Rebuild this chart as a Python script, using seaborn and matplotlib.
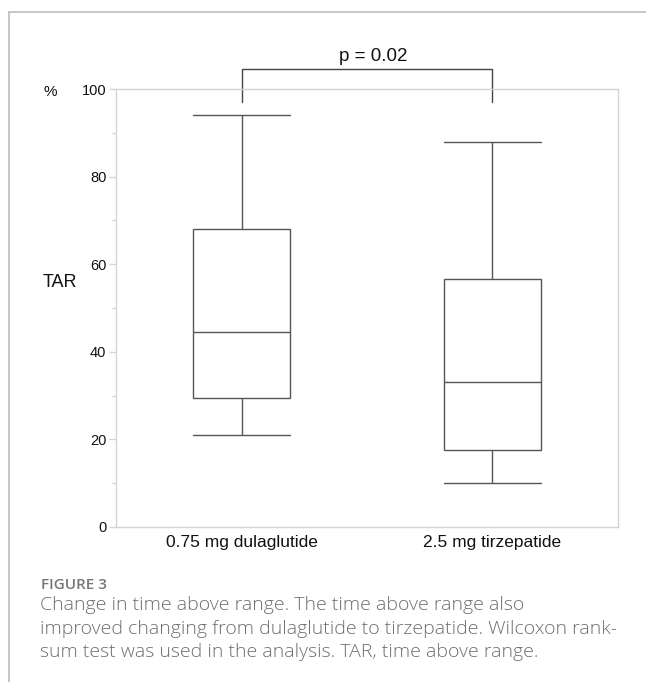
import numpy as np
import pandas as pd
import matplotlib
matplotlib.use("Agg")
import matplotlib.pyplot as plt
from matplotlib.lines import Line2D
from matplotlib.ticker import MultipleLocator
import seaborn as sns

# Data (five-number summaries)
groups = ["0.75 mg dulaglutide", "2.5 mg tirzepatide"]
dula_tar = [21, 29.5, 44.5, 68, 94]
tirz_tar = [10, 17.6, 33, 56.7, 88]
p_label = "p = 0.02"
caption_title = "FIGURE 3"
caption_lines = [
    "Change in time above range. The time above range also",
    "improved changing from dulaglutide to tirzepatide. Wilcoxon rank-",
    "sum test was used in the analysis. TAR, time above range.",
]

df = pd.DataFrame({
    "group": [groups[0]] * len(dula_tar) + [groups[1]] * len(tirz_tar),
    "TAR": dula_tar + tirz_tar,
})

sns.set_style("white")
plt.rcParams["font.family"] = ["Liberation Sans", "DejaVu Sans"]

fig = plt.figure(figsize=(6.46, 6.82), dpi=100)
ax = fig.add_axes([0.1796, 0.2273, 0.777, 0.6422])

line_col = "#555555"
sns.boxplot(data=df, x="group", y="TAR", ax=ax, color="white", width=0.39,
            linecolor=line_col, linewidth=1.0, whis=1.5, capwidths=0.39,
            showfliers=False)

ax.set_xlim(-0.5, 1.5)
ax.set_ylim(0, 100)
ax.yaxis.set_major_locator(MultipleLocator(20))
ax.yaxis.set_minor_locator(MultipleLocator(10))
ax.set_xlabel("")
ax.set_ylabel("")

spine_col = "#d4d4d4"
for s in ax.spines.values():
    s.set_visible(True)
    s.set_color(spine_col)
    s.set_linewidth(1.0)
ax.tick_params(axis="y", which="major", length=5, width=1, color=spine_col,
               labelsize=10.5, labelcolor="#111111", pad=2, left=True)
ax.tick_params(axis="y", which="minor", length=3, width=1, color=spine_col, left=True)
ax.tick_params(axis="x", length=0, labelsize=12.5, labelcolor="#111111", pad=6)

# significance bracket
ax.plot([0, 0, 1, 1], [97.1, 104.6, 104.6, 97.1], color="#444444", lw=1.0,
        clip_on=False)
ax.text(0.526, 106.3, p_label, ha="center", va="baseline", fontsize=13.5,
        color="#111111", clip_on=False)

fig.text(50 / 646, 1 - 92 / 682, "%", ha="center", va="center", fontsize=11,
         color="#111111")
fig.text(60 / 646, 1 - 282 / 682, "TAR", ha="center", va="center", fontsize=13,
         color="#111111")

# page frame lines
border = "#bdbdbd"
fig.add_artist(Line2D([9 / 646, 1], [1 - 12 / 682, 1 - 12 / 682], color=border, lw=1.2))
fig.add_artist(Line2D([9 / 646, 9 / 646], [0, 1 - 12 / 682], color=border, lw=1.2))

# caption
cap_font = ["Open Sans", "DejaVu Sans"]
fig.text(41 / 646, 1 - 585 / 682, caption_title, ha="left", va="center",
         fontsize=11, color="#777777", family=cap_font, fontweight="semibold")
for i, line in enumerate(caption_lines):
    fig.text(40 / 646, 1 - (610 + 23.5 * i) / 682, line, ha="left", va="baseline",
             fontsize=14, color="#6e6e6e", family=cap_font, fontweight="light")

fig.savefig("out.png", dpi=100)
